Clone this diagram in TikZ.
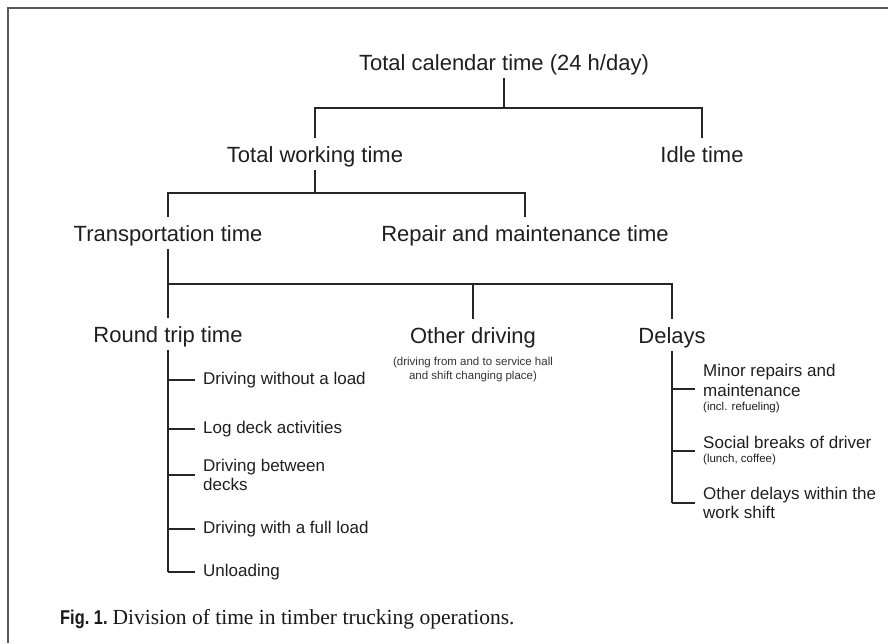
\documentclass[tikz,border=0pt]{standalone}
\usepackage{fontspec}
\setmainfont{Liberation Sans}
\newfontfamily\capserif{Liberation Serif}
\newfontfamily\capnarrow[FakeStretch=0.82]{Liberation Sans}
\newcommand\nfont{\fontsize{11.5}{14}\selectfont}

\begin{document}
\begin{tikzpicture}[x=1pt,y=-1pt,
    lbl/.style={font=\fontsize{22}{26}\selectfont,text=black!88,anchor=base,
      inner xsep=0pt,inner ysep=3pt,text height=21pt,text depth=5pt},
    itm/.style={font=\fontsize{17}{19.5}\selectfont,text=black!88,anchor=west,
      align=left,inner xsep=8pt,inner ysep=0pt},
    nte/.style={font=\nfont,text=black!80,align=center,anchor=base},
    br/.style={draw=black!85,line width=1.5pt}]
  \useasboundingbox (0,0) rectangle (888,643);
  % frame
  \draw[black!65,line width=1.6pt] (8,643) -- (8,8) -- (888,8);
  % levels of the tree
  \node[lbl] (tct)  at (504,70)  {Total calendar time (24 h/day)};
  \node[lbl] (tw)   at (315,162) {Total working time};
  \node[lbl] (idle) at (702,162) {Idle time};
  \node[lbl] (tr)   at (168,241) {Transportation time};
  \node[lbl] (rep)  at (525,241) {Repair and maintenance time};
  \node[lbl] (rt)   at (168,342) {Round trip time};
  \node[lbl] (od)   at (473,343) {Other driving};
  \node[lbl] (dl)   at (672,343) {Delays};
  \node[nte] (odn)  at (473,379) {(driving from and to service hall\\and shift changing place)};
  \coordinate (bar1) at (0,108);
  \coordinate (bar2) at (0,193);
  \coordinate (bar3) at (0,284);
  \draw[br] (tct.south) -- (tct.south |- bar1);
  \draw[br] (tw.north) |- (tct.south |- bar1) -| (idle.north);
  \draw[br] (tw.south) -- (tw.south |- bar2);
  \draw[br] (tr.north) |- (tw.south |- bar2) -| (rep.north);
  \draw[br] (tr.south) |- (od.north |- bar3) -| (dl.north);
  \draw[br] (od.north) -- (od.north |- bar3);
  \draw[br] (rt.north) -- (rt.north |- bar3);
  % round trip items
  \foreach \y/\txt [count=\i] in {380/Driving without a load,429/Log deck activities,
      475/{Driving between\\decks},529/Driving with a full load,572/Unloading}{
    \node[itm] (rt\i) at (195,\y) {\txt};
    \draw[br] (rt.south |- rt\i.west) -- (rt\i.west);
  }
  \draw[br] (rt.south) -- (rt.south |- rt5.west);
  % delays
  \foreach \y/\txt [count=\i] in {389/{Minor repairs and\\maintenance\\[-5pt]\nfont (incl. refueling)},
      451/{Social breaks of driver\\[-5.5pt]\nfont (lunch, coffee)},
      503/{Other delays within the\\work shift}}{
    \node[itm] (dl\i) at (695,\y) {\txt};
    \draw[br] (dl.south |- dl\i.west) -- (dl\i.west);
  }
  \draw[br] (dl.south) -- (dl.south |- dl3.west);
  % caption
  \node[anchor=base west,inner sep=0pt,text=black!90] (cap) at (60,624)
    {{\capnarrow\bfseries\fontsize{20}{22}\selectfont Fig.~1.}\hspace{5pt}%
     {\capserif\fontsize{21.5}{24}\selectfont Division of time in timber trucking operations.}};
\end{tikzpicture}
\end{document}
